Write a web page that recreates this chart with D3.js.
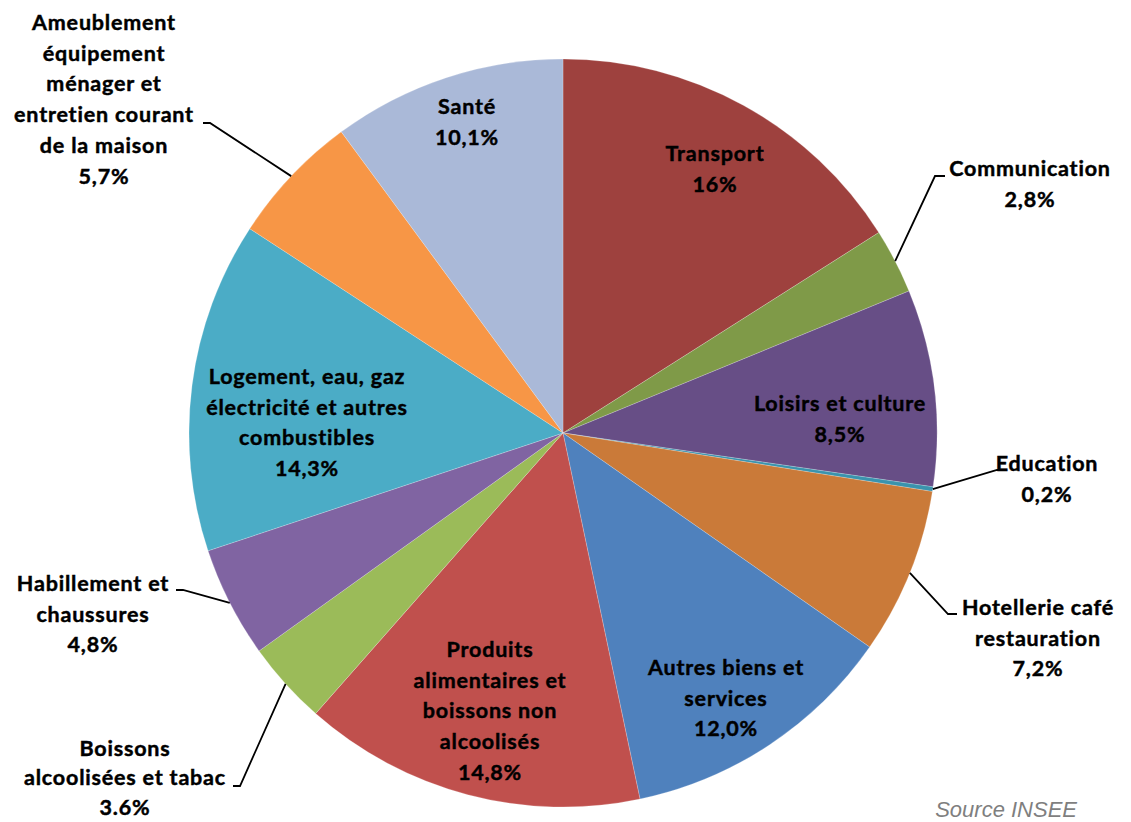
<!DOCTYPE html>
<html><head><meta charset="utf-8">
<script src="https://cdn.jsdelivr.net/npm/d3@7"></script>
<style>
html,body{margin:0;padding:0;background:#fff;overflow:hidden}
svg{display:block}
</style></head>
<body>
<svg id="chart" width="1131" height="822"></svg>
<script>
// ---- data ----
const categories = ["Transport","Communication","Loisirs et culture","Education","Hotellerie café restauration","Autres biens et services","Produits alimentaires et boissons non alcoolisés","Boissons alcoolisées et tabac","Habillement et chaussures","Logement, eau, gaz électricité et autres combustibles","Ameublement équipement ménager et entretien courant de la maison","Santé"];
const values = [16, 2.8, 8.5, 0.2, 7.2, 12.0, 14.8, 3.6, 4.8, 14.3, 5.7, 10.1];
const valueLabels = ["16%","2,8%","8,5%","0,2%","7,2%","12,0%","14,8%","3.6%","4,8%","14,3%","5,7%","10,1%"];
const labelLines = [
  ["Transport"],
  ["Communication"],
  ["Loisirs et culture"],
  ["Education"],
  ["Hotellerie café","restauration"],
  ["Autres biens et","services"],
  ["Produits","alimentaires et","boissons non","alcoolisés"],
  ["Boissons","alcoolisées et tabac"],
  ["Habillement et","chaussures"],
  ["Logement, eau, gaz","électricité et autres","combustibles"],
  ["Ameublement","équipement","ménager et","entretien courant","de la maison"],
  ["Santé"]
];
const colors = ["#9E413E","#7F9A48","#674E86","#3A93AD","#CA7A39","#4F81BD","#C0504D","#9BBB59","#8064A2","#4BACC6","#F79646","#AAB9D8"];
const sourceText = "Source INSEE";

// ---- layout (label placement) ----
const cx = 563, cy = 433, R = 374;
const labelLayout = [
  {x:715, y:153},
  {x:1030, y:168, elbow:[935,176], tail:945},
  {x:840, y:403},
  {x:1047, y:463, elbow:[997,470], tail:1006},
  {x:1038, y:607, elbow:[948,614], tail:957},
  {x:726, y:667},
  {x:490, y:649},
  {x:125, y:748, elbow:[240,786], tail:233, lh:29.5},
  {x:93, y:583, elbow:[183,590], tail:176},
  {x:307, y:376},
  {x:104, y:22, elbow:[210,123], tail:203},
  {x:467, y:106}
];
const lineH = 30.8;

const svg = d3.select("#chart");
const g = svg.append("g").attr("transform", `translate(${cx},${cy})`);

const pie = d3.pie().sort(null).value(d => d);
const arcs = pie(values);
const arc = d3.arc().innerRadius(0).outerRadius(R);

g.selectAll("path.slice").data(arcs).join("path")
  .attr("class","slice")
  .attr("d", arc)
  .attr("fill", (d,i) => colors[i])
  .attr("stroke", "rgba(255,255,255,0.35)")
  .attr("stroke-width", 0.6);

// leader lines
arcs.forEach((d,i) => {
  const L = labelLayout[i];
  if (!L.elbow) return;
  const a = (d.startAngle + d.endAngle)/2;
  const sx = cx + R*Math.sin(a), sy = cy - R*Math.cos(a);
  svg.append("polyline")
    .attr("points", `${sx},${sy} ${L.elbow[0]},${L.elbow[1]} ${L.tail},${L.elbow[1]}`)
    .attr("fill","none").attr("stroke","#000").attr("stroke-width",1.8);
});

// labels
arcs.forEach((d,i) => {
  const L = labelLayout[i];
  const lh = L.lh || lineH;
  const lines = labelLines[i].concat([valueLabels[i]]);
  const t = svg.append("text")
    .attr("text-anchor","middle")
    .attr("font-family","Lato, 'Open Sans', sans-serif")
    .attr("font-weight","bold")
    .attr("font-size", 21.5)
    .attr("letter-spacing", "0.8px")
    .attr("fill","#000")
    .attr("stroke","#000")
    .attr("stroke-width",0.45);
  lines.forEach((ln,k) => {
    t.append("tspan").attr("x", L.x).attr("y", L.y + k*lh).attr("dy","0.36em").text(ln);
  });
});

svg.append("text")
  .attr("x", 1077).attr("y", 809).attr("dy","0.36em")
  .attr("text-anchor","end")
  .attr("font-family","'Liberation Sans', Arial, sans-serif")
  .attr("font-style","italic")
  .attr("font-size", 22)
  .attr("fill","#7f7f7f")
  .text(sourceText);
</script>
</body></html>
